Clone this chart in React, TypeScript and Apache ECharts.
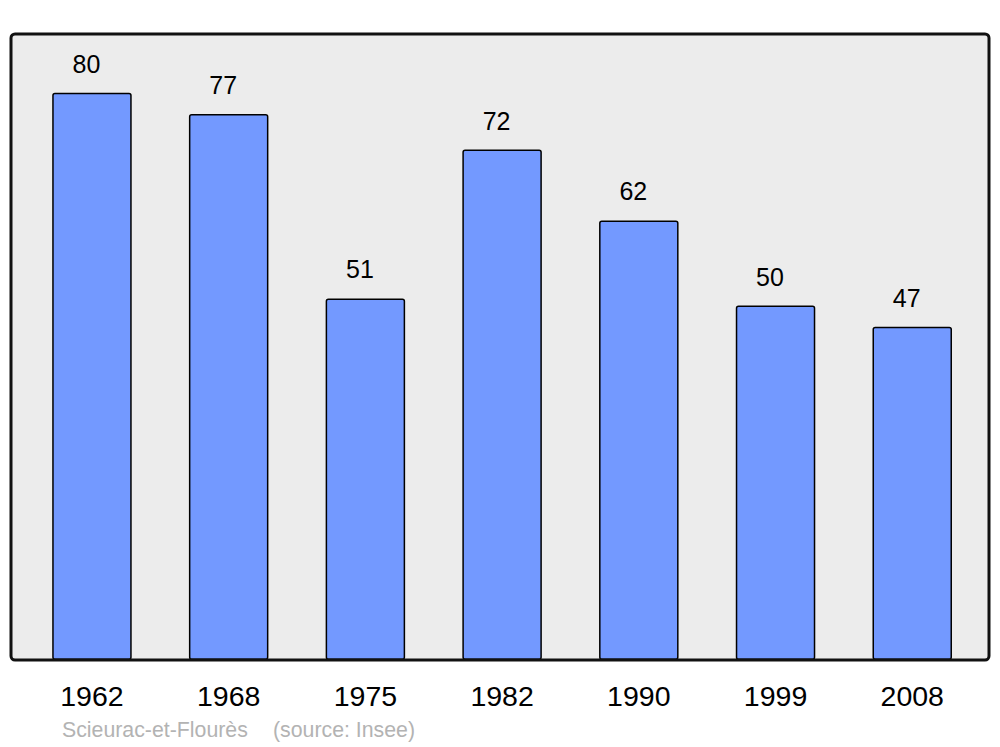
import React, { useEffect, useRef } from "react";
import * as echarts from "echarts";

const years = ["1962", "1968", "1975", "1982", "1990", "1999", "2008"];
const population = [80, 77, 51, 72, 62, 50, 47];
const sourceName = "Scieurac-et-Flourès";
const sourceNote = "(source: Insee)";

export default function App() {
  const ref = useRef<HTMLDivElement>(null);
  useEffect(() => {
    if (!ref.current) return;
    const chart = echarts.init(ref.current, null, { renderer: "svg" });
    const font = "'Liberation Sans', Arial, sans-serif";
    chart.setOption({
      animation: false,
      backgroundColor: "#ffffff",
      grid: { left: 23.6, top: 34, width: 957, height: 626, containLabel: false },
      xAxis: {
        type: "category",
        data: years,
        axisLine: { show: false },
        axisTick: { show: false },
        axisLabel: { fontSize: 28.5, color: "#000", fontFamily: font, margin: 21 },
      },
      yAxis: {
        type: "value",
        min: 0,
        max: 88.3,
        show: false,
        splitLine: { show: false },
      },
      graphic: [
        {
          type: "rect",
          z: -10,
          shape: { x: 11, y: 34, width: 978, height: 626, r: 4 },
          style: { fill: "#ececec", stroke: "none" },
        },
        {
          type: "rect",
          z: 100,
          shape: { x: 11, y: 34, width: 978, height: 626, r: 4 },
          style: { fill: "none", stroke: "#111", lineWidth: 3 },
        },
        {
          type: "text",
          x: 62,
          y: 730,
          style: { text: sourceName, fill: "#b3b3b3", font: `21.3px ${font}`, textVerticalAlign: "middle" },
        },
        {
          type: "text",
          x: 273,
          y: 730,
          style: { text: sourceNote, fill: "#b3b3b3", font: `21.3px ${font}`, textVerticalAlign: "middle" },
        },
      ],
      series: [
        {
          type: "bar",
          data: population,
          barWidth: 79.5,
          itemStyle: { color: "#7399ff", borderColor: "#000", borderWidth: 1.5, borderRadius: 2 },
          label: {
            show: true,
            position: "top",
            distance: 16.5,
            offset: [-5.5, 0],
            fontSize: 25,
            color: "#000",
            fontFamily: font,
          },
        },
      ],
    });
    return () => chart.dispose();
  }, []);
  return <div ref={ref} style={{ width: 1000, height: 747, position: "absolute", left: 0, top: 0 }} />;
}
